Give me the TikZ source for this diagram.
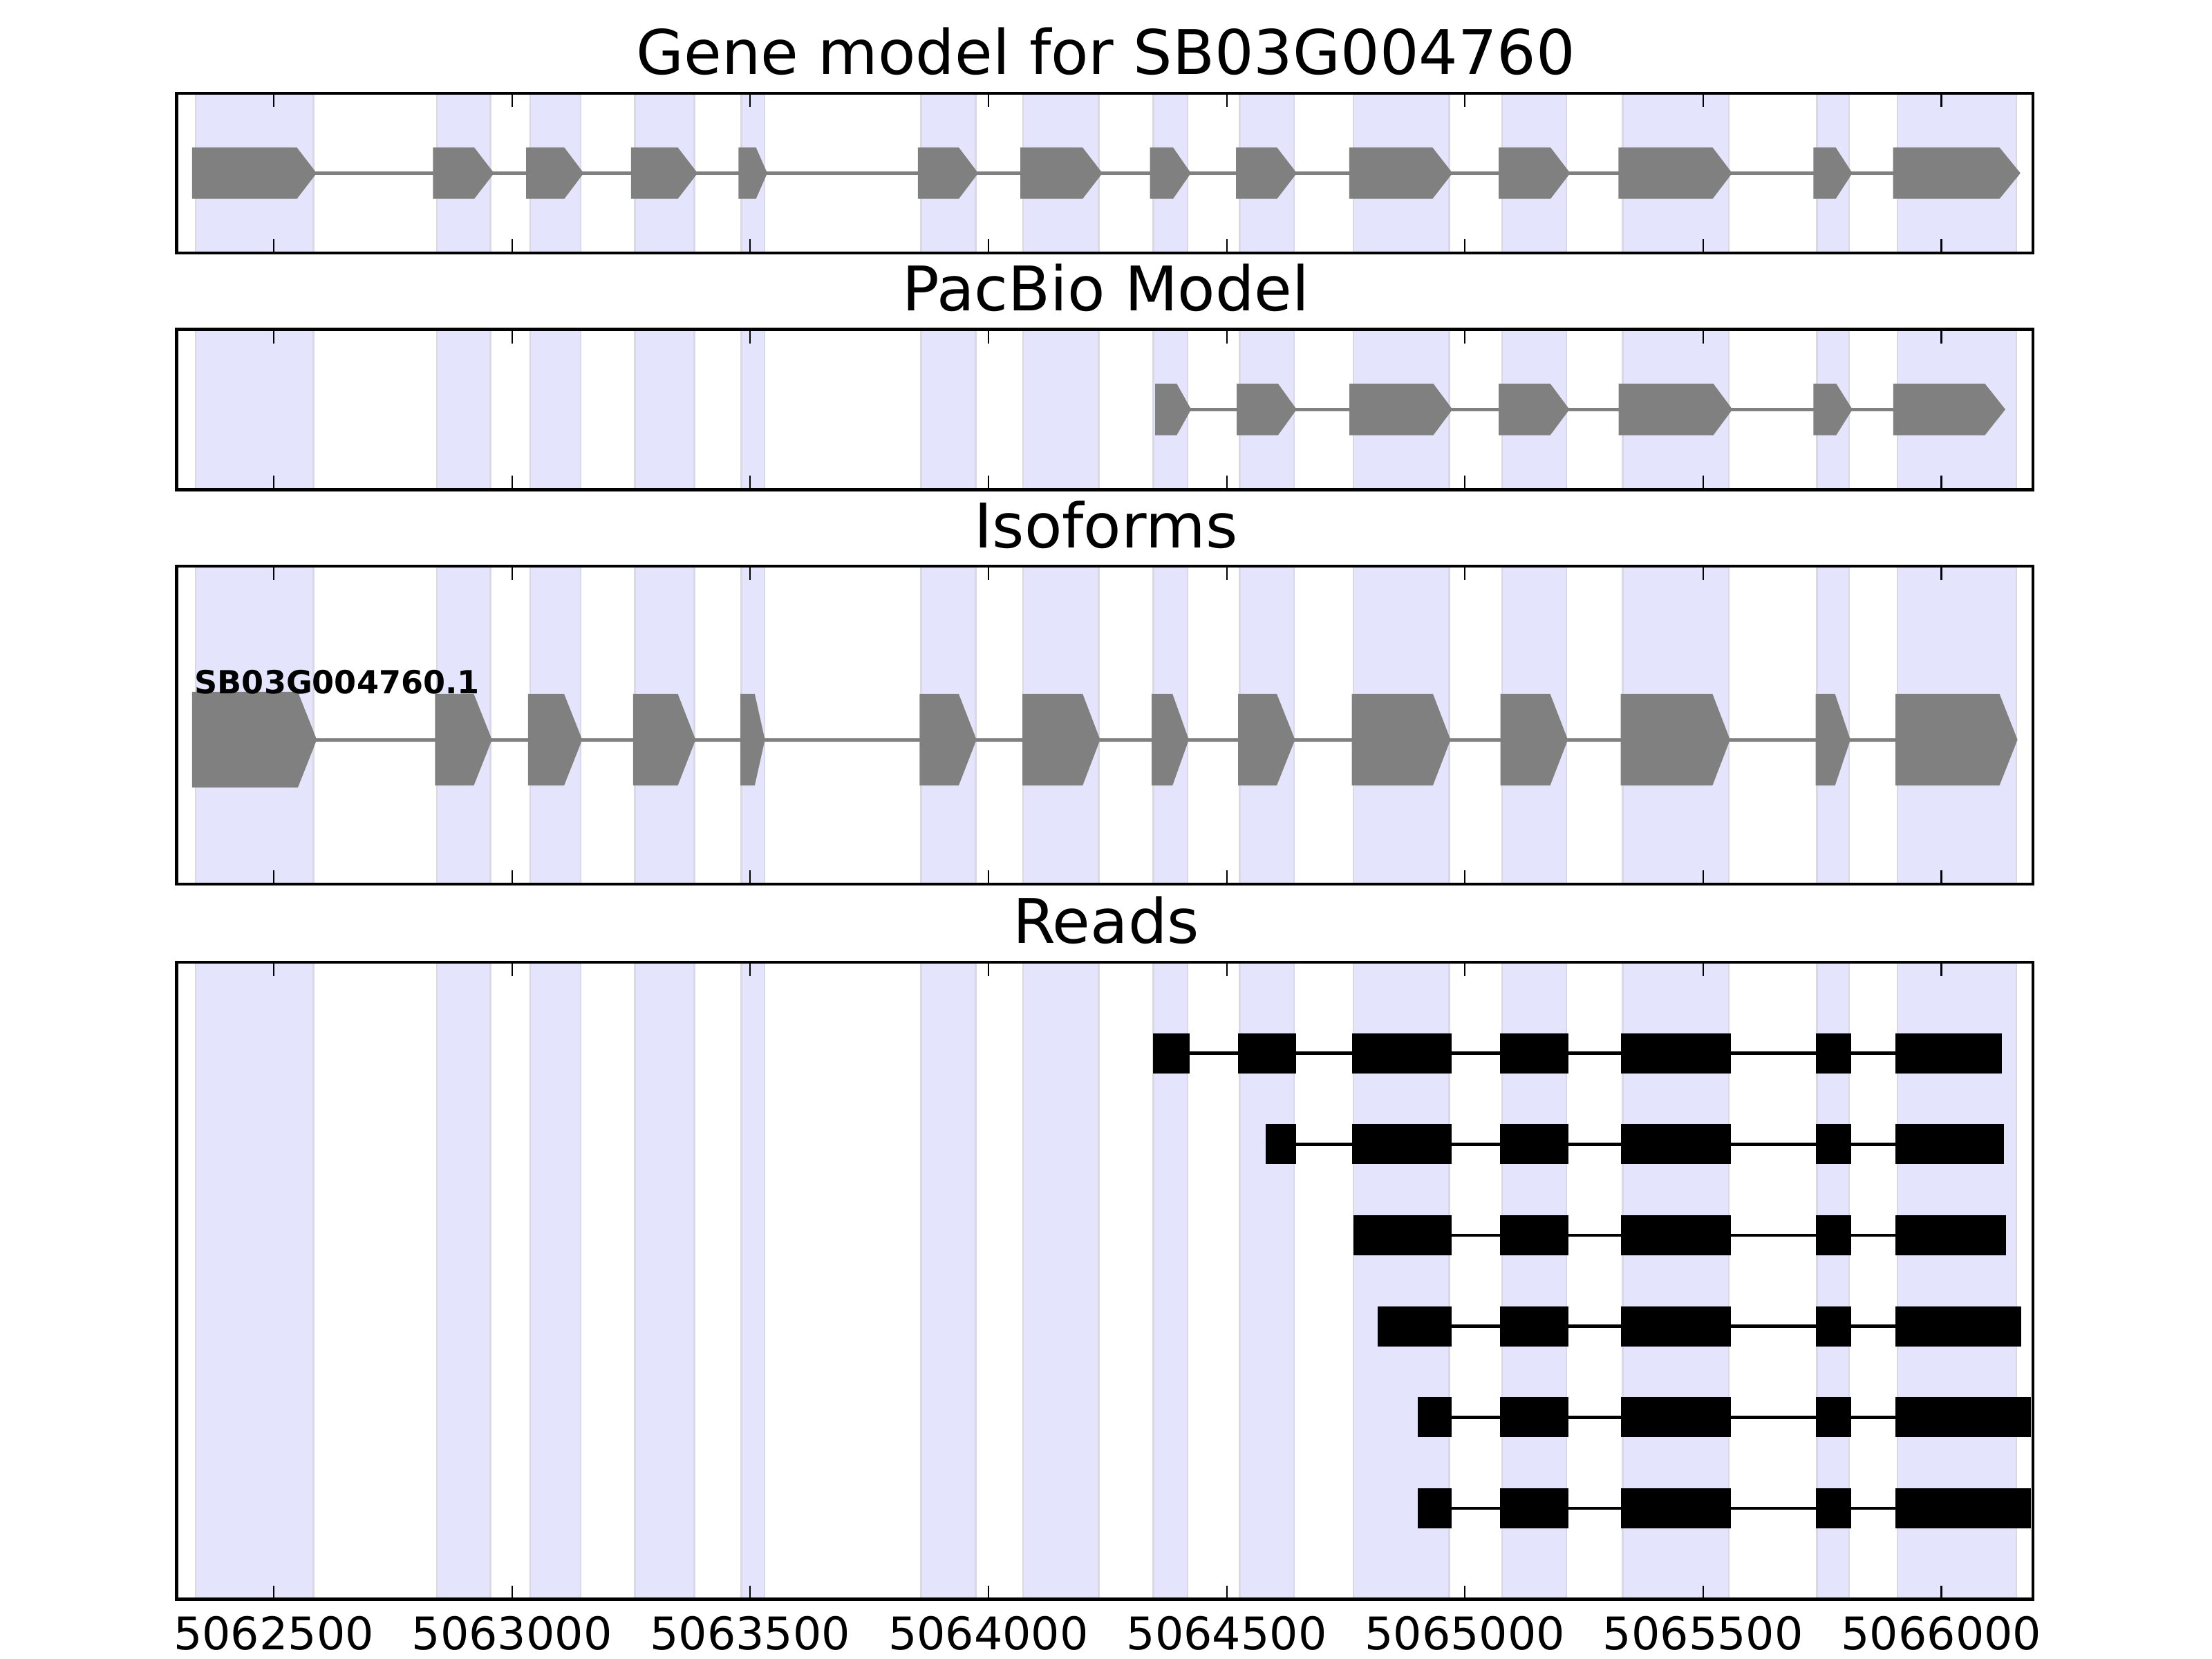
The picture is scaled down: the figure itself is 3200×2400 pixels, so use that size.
\documentclass[tikz,border=0pt]{standalone}
\usepackage{fontspec}
\setmainfont{DejaVu Sans}
\definecolor{spanfill}{RGB}{228,228,253}
\definecolor{spanedge}{RGB}{216,216,232}
\definecolor{exongray}{RGB}{128,128,128}
\newcommand\spanband[2]{%
  \foreach \sa/\sb in {283/453.5,632/709.5,767/840,918.5/1004.6,1072.3/1106,1332.5/1411.7,1480/1589.6,1668.3/1718.2,1793.4/1872,1958/2096.4,2173.1/2265.9,2347.6/2501,2628.4/2674.8,2744.7/2916.7}{%
    \fill[spanfill] (\sa,#1) rectangle (\sb,#2);
    \draw[spanedge,line width=0.7pt] (\sa,#1) -- (\sa,#2) (\sb,#1) -- (\sb,#2);
  }}
\newcommand\exonshape[5]{%
  \fill[exongray] (#3,{#1-#2}) -- (#4,{#1-#2}) -- (#5,#1) -- (#4,{#1+#2}) -- (#3,{#1+#2}) -- cycle;}
\newcommand\panelframe[2]{%
  \foreach \tk in {396.1,740.7,1085.3,1429.9,1774.6,2119.2,2463.8,2808.4}{%
    \draw[tickline] (\tk,#1) -- (\tk,{#1+20}) (\tk,#2) -- (\tk,{#2-20});
  }
  \draw[frameline] (255.5,#1) rectangle (2941,#2);}
\begin{document}
\begin{tikzpicture}[x=0.01cm,y=-0.01cm,
  frameline/.style={line width=1.28pt,black},
  tickline/.style={line width=0.62pt,black},
  intron/.style={line width=1.4pt,exongray},
  readline/.style={line width=1.3pt,black},
  titletext/.style={anchor=base,inner sep=0pt,font=\fontsize{25.3}{30}\selectfont},
  ticktext/.style={anchor=base,inner sep=0pt,font=\fontsize{18.5}{22}\selectfont},
  isotext/.style={anchor=base west,inner sep=0pt,font=\bfseries\fontsize{13.1}{15}\selectfont}]
\useasboundingbox (0,0) rectangle (3200,2400);

% ---------- Panel 1: gene model ----------
\spanband{135}{366}
\draw[intron] (277.9,250.5) -- (2738.5,250.5);
\foreach \l/\c/\t in {277.9/429.4/458.1,626.3/686/714.7,761.2/816.3/844.4,912.8/980.5/1009.2,1068.3/1093.6/1110,1327.9/1387/1415.1,1476/1566.1/1594.8,1663.7/1697/1722.8,1788.2/1847.3/1876,1951.8/2072.3/2101.3,2168.2/2243/2271.5,2341.4/2477.5/2505.9,2623.4/2655.6/2679.7,2738.5/2892.5/2922.8}
  {\exonshape{250.5}{37.2}{\l}{\c}{\t}}
\panelframe{135}{366}
\node[titletext] (title1) at (1600,108) {Gene model for SB03G004760};

% ---------- Panel 2: PacBio model ----------
\spanband{476.7}{708.3}
\draw[intron] (1671.1,592.3) -- (2738.8,592.3);
\foreach \l/\c/\t in {1671.1/1702.3/1723.2,1789/1848.9/1875.8,1952.1/2073.5/2101.3,2168.1/2242.7/2270.4,2341.5/2478.6/2506.3,2623.4/2656.4/2679.8,2738.8/2871.5/2901}
  {\exonshape{592.3}{37.2}{\l}{\c}{\t}}
\panelframe{476.7}{708.3}
\node[titletext] (title2) at (1600,449.5) {PacBio Model};

% ---------- Panel 3: isoforms ----------
\spanband{819}{1279}
\draw[intron] (277.8,1070.1) -- (2742,1070.1);
\exonshape{1070.1}{69.2}{277.8}{430.9}{458.3}
\foreach \l/\c/\t in {629.4/685.4/711.7,763.8/816/842.3,915.8/980.5/1006.3,1071/1091.8/1106.6,1330.4/1386.9/1412.6,1479/1566.2/1591.5,1666/1696.2/1719.8,1791.1/1847/1873.4,1955.7/2072.9/2098.4,2170.5/2242.5/2268.1,2344.6/2477.3/2502.8,2626.5/2654.6/2676.9,2742/2892.5/2918.6}
  {\exonshape{1070.1}{66.3}{\l}{\c}{\t}}
\node[isotext] (isolabel) at (281,1003.5) {SB03G004760.1};
\panelframe{819}{1279}
\node[titletext] (title3) at (1600,792) {Isoforms};

% ---------- Panel 4: reads ----------
\spanband{1392}{2313.5}
\foreach \y/\s/\e/\first in {1523.5/1667.6/2895.7/{1667.6/1721.4,1790.8/1874.9,1955.6/2100.4},
                             1655.2/1830.7/2899.2/{1830.7/1874.9,1955.6/2100.4},
                             1786.9/1958.2/2901.8/{1958.2/2100.4},
                             1918.6/1992.9/2924.3/{1992.9/2100.4},
                             2050.3/2051/2938.3/{2051/2100.4},
                             2182/2051/2938.3/{2051/2100.4}}{%
  \draw[readline] (\s,\y) -- (\e,\y);
  \foreach \ba/\bb in \first {\fill[black] (\ba,{\y-29}) rectangle (\bb,{\y+29});}
  \foreach \ba/\bb in {2169.8/2268.7,2345/2503.7,2626.9/2678}{\fill[black] (\ba,{\y-29}) rectangle (\bb,{\y+29});}
  \fill[black] (2742.2,{\y-29}) rectangle (\e,{\y+29});
}
\panelframe{1392}{2313.5}
\node[titletext] (title4) at (1600,1364.5) {Reads};

% tick labels
\foreach \tk/\lab [count=\i] in {396.1/5062500,740.7/5063000,1085.3/5063500,1429.9/5064000,1774.6/5064500,2119.2/5065000,2463.8/5065500,2808.4/5066000}
  {\node[ticktext] (tl\i) at (\tk,2386.7) {\lab};}
\end{tikzpicture}
\end{document}
